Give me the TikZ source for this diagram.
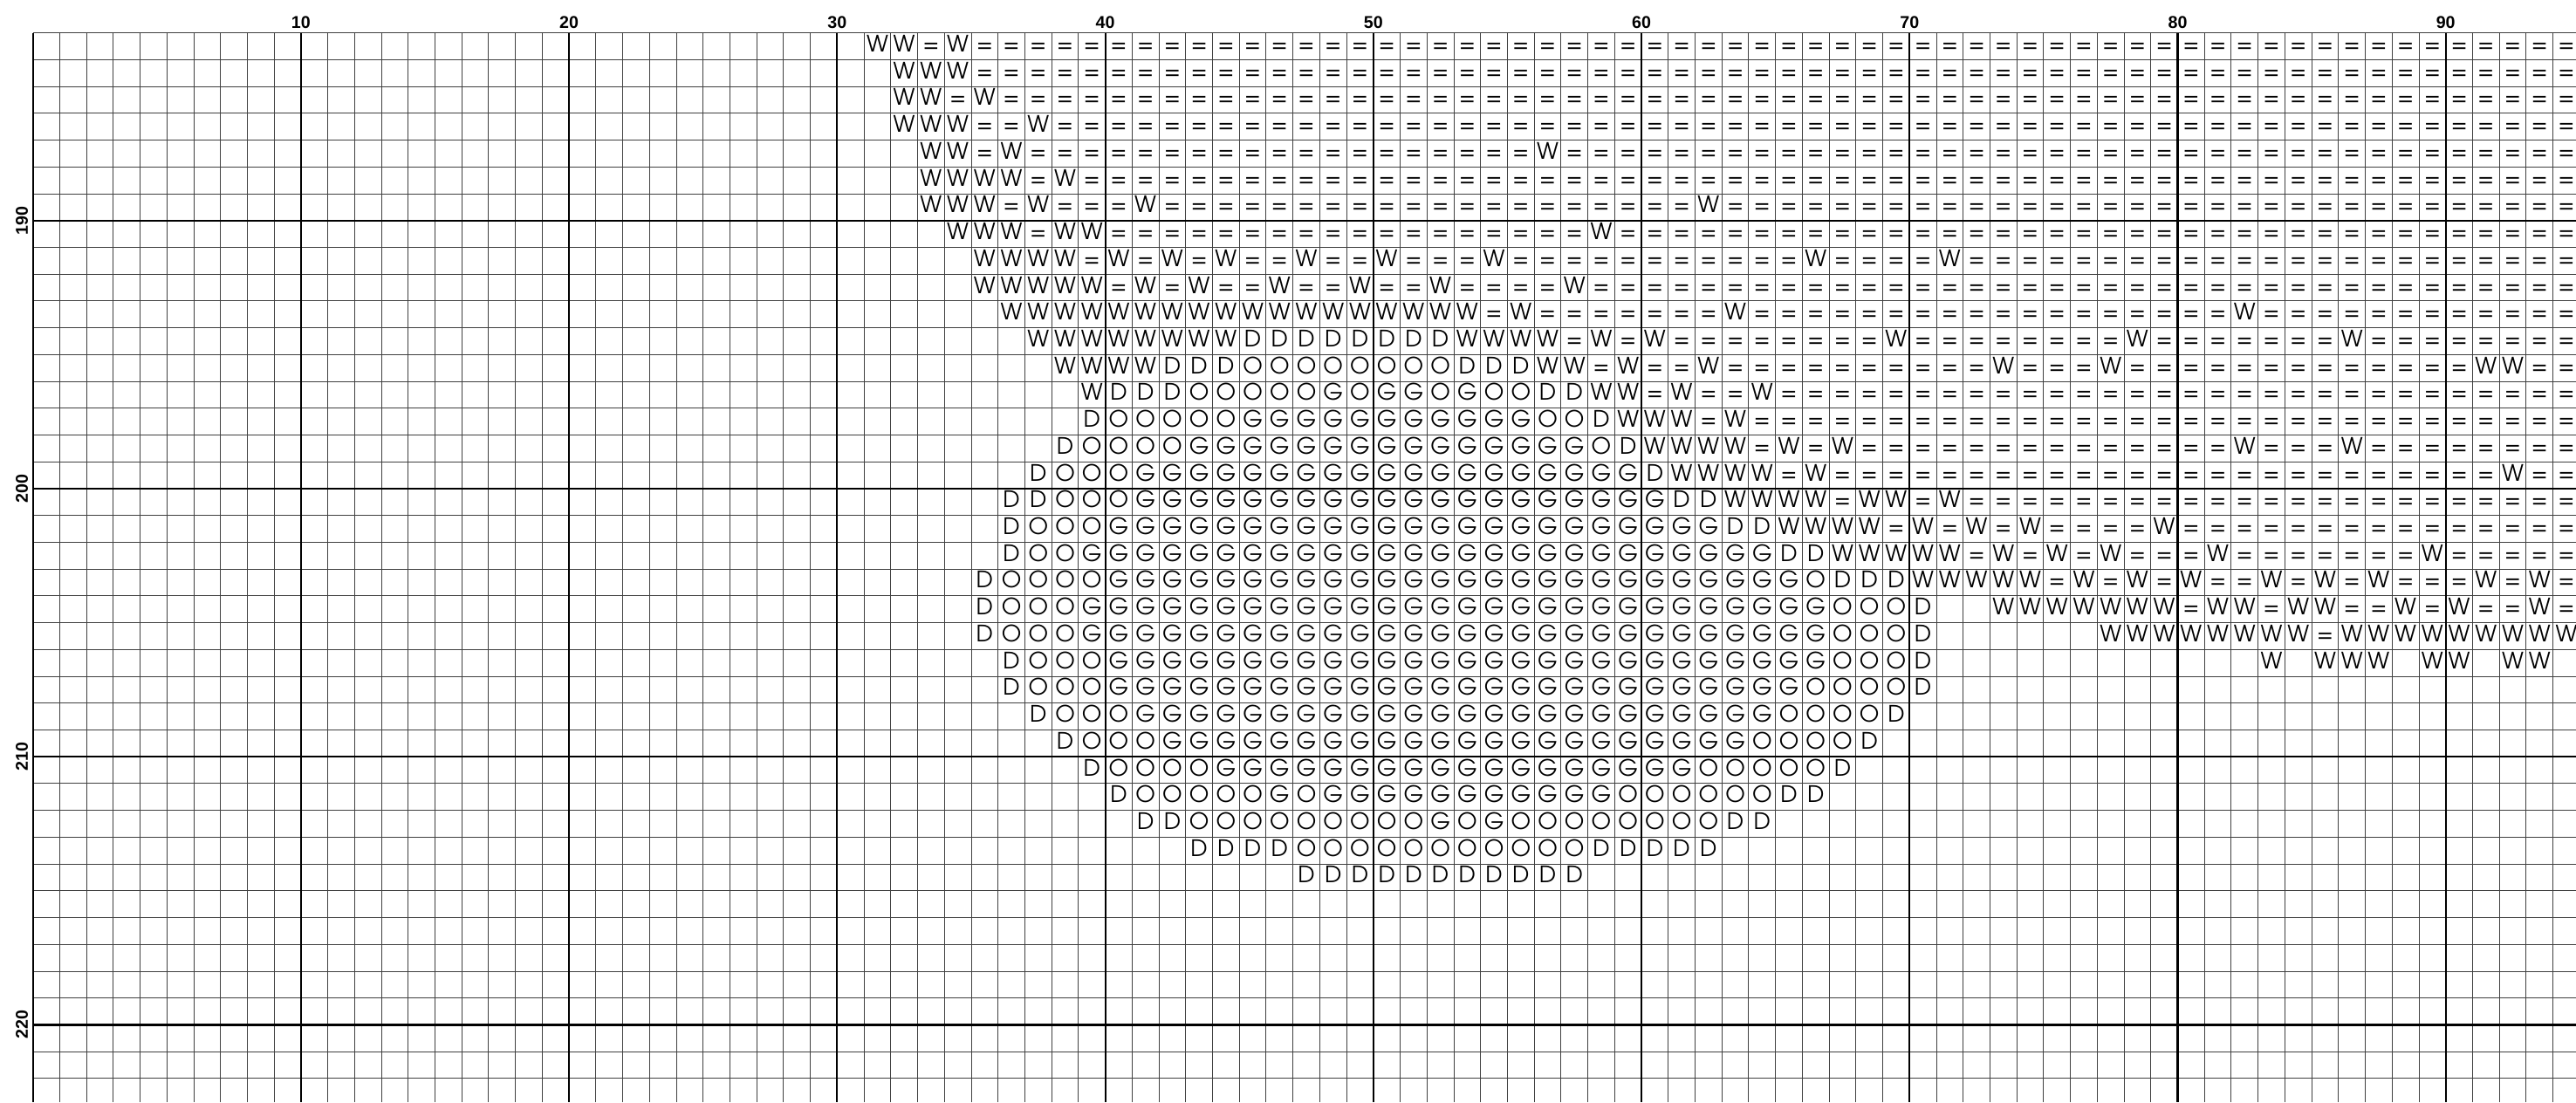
\documentclass[tikz,border=0pt]{standalone}
\usepackage{fontspec}
\setmainfont{Liberation Sans}
\newfontfamily\cellfont{texgyreadventor-regular.otf}
\newcount\gcol
\def\seg#1#2#3{\gcol=#2\relax\def\grow{#1}\segscan#3\relax}
\def\segscan#1{\ifx#1\relax\else\segcell{#1}\advance\gcol by 1\relax\expandafter\segscan\fi}
\def\segcell#1{\if#1.\else\edef\cx{\the\gcol}\node[cell] (c-\grow-\cx) at (\cx+0.5,-\grow-0.71) {#1};\fi}
\def\run#1#2#3#4{\foreach \cc in {#2,...,#3}{\node[cell] (c-#1-\cc) at (\cc+0.5,-#1-0.71) {#4};}}
\tikzset{
  cell/.style={anchor=base,inner sep=0pt,font=\cellfont\fontsize{12pt}{12pt}\selectfont},
  thinline/.style={line width=0.45pt,draw=black!75},
  thickline/.style={line width=1pt,draw=black},
  collabel/.style={inner sep=0pt,font=\bfseries\fontsize{9.1pt}{9.1pt}\selectfont},
  rowlabel/.style={inner sep=0pt,rotate=90,font=\bfseries\fontsize{9.1pt}{9.1pt}\selectfont}
}
\begin{document}
\begin{tikzpicture}[x=0.5cm,y=0.5cm]
\path[use as bounding box,fill=white] (-1.227,1.227) rectangle (94.86,-39.89);
\begin{scope}
\clip (-1.227,1.227) rectangle (94.86,-39.89);
\draw[thinline,step=0.5cm] (0,-39.89) grid (94.86,0);
\foreach \i in {0,10,...,90}{\draw[thickline] (\i,0) -- (\i,-39.89);}
\foreach \j in {7,17,27,37}{\draw[thickline] (0,-\j) -- (94.86,-\j);}
% row 0-9
\seg{0}{31}{WW=W}\run{0}{35}{94}{=}
\seg{1}{32}{WWW}\run{1}{35}{94}{=}
\seg{2}{32}{WW=W}\run{2}{36}{94}{=}
\seg{3}{32}{WWW==W}\run{3}{38}{94}{=}
\seg{4}{33}{WW=W}\run{4}{37}{55}{=}\seg{4}{56}{W}\run{4}{57}{94}{=}
\seg{5}{33}{WWWW=W}\run{5}{39}{94}{=}
\seg{6}{33}{WWW=W===W}\run{6}{42}{61}{=}\seg{6}{62}{W}\run{6}{63}{94}{=}
\seg{7}{34}{WWW=WW}\run{7}{40}{57}{=}\seg{7}{58}{W}\run{7}{59}{94}{=}
\seg{8}{35}{WWWW=W=W=W==W==W===W}\run{8}{55}{65}{=}\seg{8}{66}{W}\run{8}{67}{70}{=}\seg{8}{71}{W}\run{8}{72}{94}{=}
\seg{9}{35}{WWWWW=W=W==W==W==W}\run{9}{53}{56}{=}\seg{9}{57}{W}\run{9}{58}{94}{=}
% rows 10-19
\run{10}{36}{53}{W}\seg{10}{54}{=W}\run{10}{56}{62}{=}\seg{10}{63}{W}\run{10}{64}{81}{=}\seg{10}{82}{W}\run{10}{83}{94}{=}
\run{11}{37}{44}{W}\run{11}{45}{52}{D}\seg{11}{53}{WWWW=W=W}\run{11}{61}{68}{=}\seg{11}{69}{W}\run{11}{70}{77}{=}\seg{11}{78}{W}\run{11}{79}{85}{=}\seg{11}{86}{W}\run{11}{87}{94}{=}
\seg{12}{38}{WWWWDDD}\run{12}{45}{52}{O}\seg{12}{53}{DDDWW=W==W}\run{12}{63}{72}{=}\seg{12}{73}{W}\run{12}{74}{76}{=}\seg{12}{77}{W}\run{12}{78}{90}{=}\seg{12}{91}{WW==}
\seg{13}{39}{WDDDOOOOOGOGGOGOODDWW=W==W}\run{13}{65}{94}{=}
\seg{14}{39}{DOOOOO}\run{14}{45}{55}{G}\seg{14}{56}{OODWWW=W}\run{14}{64}{94}{=}
\seg{15}{38}{DOOOO}\run{15}{43}{57}{G}\seg{15}{58}{ODWWWW=W=W}\run{15}{68}{81}{=}\seg{15}{82}{W===W}\run{15}{87}{94}{=}
\seg{16}{37}{DOOO}\run{16}{41}{59}{G}\seg{16}{60}{DWWWW=W}\run{16}{67}{91}{=}\seg{16}{92}{W==}
\seg{17}{36}{DDOOO}\run{17}{41}{60}{G}\seg{17}{61}{DDWWWW=WW=W}\run{17}{72}{94}{=}
\seg{18}{36}{DOOO}\run{18}{40}{62}{G}\seg{18}{63}{DDWWWW=W=W=W====W}\run{18}{80}{94}{=}
\seg{19}{36}{DOO}\run{19}{39}{64}{G}\seg{19}{65}{DDWWWWW=W=W=W===W}\run{19}{82}{88}{=}\seg{19}{89}{W=====}
% rows 20-31
\seg{20}{35}{DOOOO}\run{20}{40}{65}{G}\seg{20}{66}{ODDDWWWWW=W=W=W==W=W=W===W=W=}
\seg{21}{35}{DOOO}\run{21}{39}{66}{G}\seg{21}{67}{OOOD..WWWWWWW=WW=WW==W=W==W=}
\seg{22}{35}{DOOO}\run{22}{39}{66}{G}\seg{22}{67}{OOOD}\run{22}{77}{84}{W}\seg{22}{85}{=}\run{22}{86}{94}{W}
\seg{23}{36}{DOOO}\run{23}{40}{66}{G}\seg{23}{67}{OOOD}\seg{23}{83}{W.WWW.WW.WW}
\seg{24}{36}{DOOO}\run{24}{40}{65}{G}\seg{24}{66}{OOOOD}
\seg{25}{37}{DOOO}\run{25}{41}{64}{G}\seg{25}{65}{OOOOD}
\seg{26}{38}{DOOO}\run{26}{42}{63}{G}\seg{26}{64}{OOOOD}
\seg{27}{39}{DOOOO}\run{27}{44}{61}{G}\seg{27}{62}{OOOOOD}
\seg{28}{40}{DOOOOOGO}\run{28}{48}{58}{G}\seg{28}{59}{OOOOOODD}
\seg{29}{41}{DDOOOOOOOOOGOG}\run{29}{55}{62}{O}\seg{29}{63}{DD}
\seg{30}{43}{DDDD}\run{30}{47}{57}{O}\run{30}{58}{62}{D}
\run{31}{47}{57}{D}
\end{scope}
% labels
\foreach \k in {10,20,...,90}{\node[collabel] (cl\k) at (\k,0.40) {\k};}
\node[rowlabel] (rl190) at (-0.41,-7) {190};
\node[rowlabel] (rl200) at (-0.41,-17) {200};
\node[rowlabel] (rl210) at (-0.41,-27) {210};
\node[rowlabel] (rl220) at (-0.41,-37) {220};
\end{tikzpicture}
\end{document}
